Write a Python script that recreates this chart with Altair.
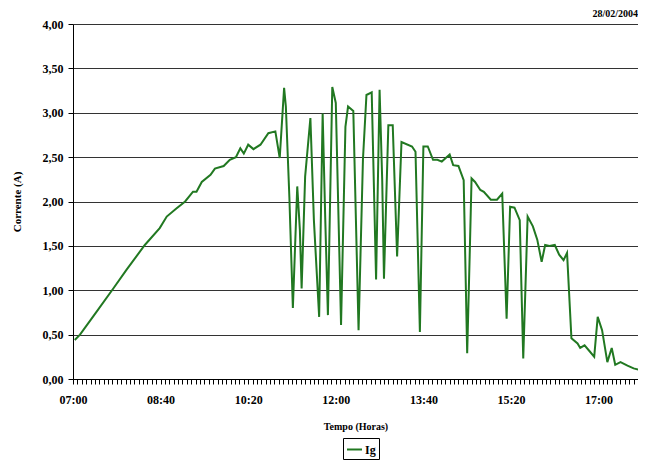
import altair as alt
import pandas as pd

# Time of reading (HH:MM) and current Ig (A)
times = ["07:02","07:08","07:27","07:46","08:01","08:22","08:39","08:47","08:58","09:08",
         "09:17","09:21","09:27","09:37","09:42","09:52","09:59","10:06","10:11","10:15",
         "10:20","10:26","10:34","10:43","10:51","10:56","11:01","11:03","11:07","11:11",
         "11:16","11:19","11:21","11:25","11:31","11:35","11:41","11:45","11:48","11:51",
         "11:56","12:00","12:06","12:11","12:14","12:20","12:26","12:31","12:35","12:41",
         "12:46","12:50","12:53","12:55","13:00","13:05","13:10","13:15","13:27","13:31",
         "13:36","13:40","13:45","13:51","13:56","14:01","14:10","14:14","14:20","14:26",
         "14:30","14:33","14:35","14:39","14:45","14:49","14:57","15:04","15:10","15:15",
         "15:19","15:24","15:30","15:34","15:39","15:45","15:50","15:55","15:59","16:04",
         "16:10","16:15","16:20","16:24","16:29","16:36","16:39","16:44","16:50","16:55",
         "16:59","17:04","17:10","17:15","17:19","17:25","17:33","17:40","17:48","17:55"]
ig = [0.44,0.50,0.76,1.02,1.23,1.51,1.70,1.83,1.92,2.00,
      2.11,2.11,2.22,2.30,2.37,2.40,2.47,2.50,2.60,2.54,
      2.64,2.59,2.64,2.77,2.79,2.49,3.28,3.07,2.05,0.80,
      2.17,1.68,1.02,2.28,2.94,1.79,0.70,2.99,1.79,0.72,
      3.29,3.11,0.61,2.84,3.07,3.02,0.55,2.47,3.20,3.23,
      1.12,3.26,2.24,1.13,2.86,2.86,1.38,2.67,2.62,2.56,
      0.53,2.62,2.62,2.47,2.47,2.45,2.53,2.41,2.40,2.24,
      0.29,1.45,2.26,2.22,2.13,2.11,2.02,2.02,2.09,0.68,
      1.94,1.93,1.79,0.23,1.83,1.72,1.57,1.32,1.51,1.50,
      1.51,1.40,1.34,1.42,0.46,0.40,0.35,0.38,0.31,0.25,
      0.70,0.55,0.19,0.35,0.16,0.19,0.15,0.12,0.10,0.08]
series_name = "Ig"
y_ticks = [0, 0.5, 1.0, 1.5, 2.0, 2.5, 3.0, 3.5, 4.0]
start_hour = 7
end_minutes = 645  # visible right edge of the time axis

def to_min(t):
    h, m = t.split(":")
    return (int(h) - start_hour) * 60 + int(m)

df = pd.DataFrame({
    "t": [to_min(t) for t in times],
    "ig": ig,
    "serie": [series_name] * len(ig),
})

font = "Liberation Serif"
x_ticks = list(range(0, end_minutes + 1, 5))

label_x = ("datum.value % 100 == 0 ? "
           "(pad('' + (floor(datum.value/60) + 7), 2, '0', 'left') + ':' + "
           "pad('' + (datum.value % 60), 2, '0', 'left')) : ''")

chart = alt.Chart(df).mark_line(strokeWidth=2, clip=True).encode(
    x=alt.X("t:Q",
            scale=alt.Scale(domain=[0, end_minutes], nice=False, zero=False),
            axis=alt.Axis(title="Tempo (Horas)", values=x_ticks, labelExpr=label_x,
                          grid=False, labelOverlap=False, labelFlush=False, labelBound=False,
                          tickSize=5, tickColor="black", domainColor="black",
                          labelFont=font, labelFontWeight="bold", labelFontSize=12,
                          labelColor="black", labelPadding=10,
                          titleFont=font, titleFontWeight="bold", titleFontSize=10,
                          titleColor="black", titlePadding=16)),
    y=alt.Y("ig:Q",
            scale=alt.Scale(domain=[0, 4], nice=False),
            axis=alt.Axis(title="Corrente (A)", values=y_ticks,
                          labelExpr="replace(format(datum.value, '.2f'), '.', ',')",
                          grid=True, gridColor="#333333", gridWidth=1,
                          tickSize=5, tickColor="black", domainColor="black",
                          labelFont=font, labelFontWeight="bold", labelFontSize=12,
                          labelColor="black", labelPadding=5,
                          titleFont=font, titleFontWeight="bold", titleFontSize=11,
                          titleColor="black", titlePadding=20)),
    color=alt.Color("serie:N",
                    scale=alt.Scale(domain=[series_name], range=["#217821"]),
                    legend=alt.Legend(title=None, orient="none", legendX=270, legendY=414,
                                      strokeColor="black", fillColor="white", padding=3,
                                      symbolType="stroke", symbolStrokeWidth=2, symbolSize=225,
                                      labelFont=font, labelFontWeight="bold", labelFontSize=12,
                                      labelColor="black", labelOffset=2)),
).properties(
    width=565,
    height=355,
    title=alt.TitleParams("28/02/2004", anchor="end", frame="group", font=font,
                          fontWeight="bold", fontSize=10, color="black", offset=-1),
    autosize=alt.AutoSizeParams(type="none"),
    padding={"left": 65, "top": 16, "right": 0, "bottom": 81},
).configure_view(stroke=None).configure(background="white")

chart.save("out.html", embed_options={"renderer": "svg", "actions": False})
